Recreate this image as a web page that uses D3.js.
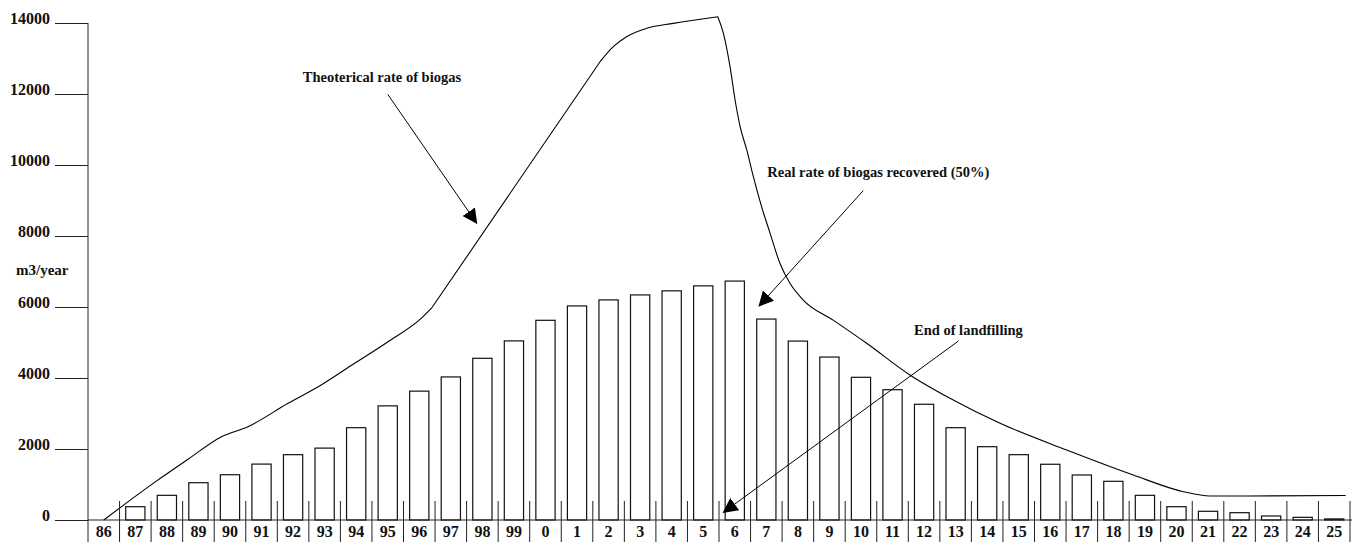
<!DOCTYPE html>
<html>
<head>
<meta charset="utf-8">
<script src="https://cdn.jsdelivr.net/npm/d3@7"></script>
<style>
  body { margin: 0; background: #fff; }
  text { font-family: "Liberation Serif", "Times New Roman", serif; font-weight: bold; fill: #111; }
</style>
</head>
<body>
<script>
// year labels along the bottom (1986 .. 2025)
const yearLabels = ["86", "87", "88", "89", "90", "91", "92", "93", "94", "95", "96", "97", "98", "99",
    "0", "1", "2", "3", "4", "5", "6", "7", "8", "9", "10", "11", "12", "13", "14", "15", "16",
    "17", "18", "19", "20", "21", "22", "23", "24", "25"];

// real rate of biogas recovered (bars), m3/year
const recovered = [0, 375, 695, 1050, 1275, 1575, 1840, 2025, 2600, 3215, 3630, 4030, 4555, 5045,
    5625, 6030, 6200, 6340, 6455, 6595, 6730, 5660, 5040, 4590, 4020, 3670, 3260, 2600, 2065, 1840,
    1570, 1268, 1090, 695, 375, 245, 206, 113, 75, 30];

// theoretical rate of biogas (line), year as decimal
const theoYear = [1986.0, 1987.61, 1988.67, 1989.73, 1990.57, 1991.84, 1992.89, 1993.95, 1995.01,
    1996.06, 1996.41, 2001.73, 2002.15, 2002.57, 2003.21, 2004.05, 2005.46, 2005.64, 2005.85,
    2006.01, 2006.17, 2006.38, 2006.59, 2006.85, 2007.12, 2007.43, 2007.75, 2008.17, 2009.12,
    2010.18, 2011.55, 2012.82, 2014.41, 2016.52, 2018.63, 2020.22, 2021.06, 2025.36];
const theoValue = [0, 1060, 1710, 2347, 2628, 3287, 3803, 4414, 5023,
    5682, 5992, 12910, 13333, 13614, 13850, 13990, 14178, 13710, 12769,
    11831, 11079, 10423, 9670, 8825, 8076, 7231, 6668, 6197, 5630,
    4977, 4085, 3428, 2723, 1972, 1268, 798, 676, 690];
// indices where the curve has a sharp corner
const theoCorners = [10, 11, 16];

const yTicks = [0, 2000, 4000, 6000, 8000, 10000, 12000, 14000];

// annotations: text anchor, arrow start and arrow tip (year, value)
const noteText = ["Theoterical rate of biogas", "Real rate of biogas recovered (50%)", "End of landfilling"];
const noteAt = [[1992.31, 12346], [2007.03, 9670], [2011.68, 5211]];
const noteFrom = [[1995.0, 11992], [2010.07, 9276], [2013.09, 5042]];
const noteTo = [[1997.82, 8358], [2006.77, 6028], [2005.64, 217]];

const W = 1352, H = 542;
const svg = d3.select("body").append("svg").attr("width", W).attr("height", H);

const x = d3.scaleBand().domain(yearLabels).range([88, 1350]).padding(0);
const xYear = d3.scaleLinear().domain([1985.5, 2025.5]).range([88, 1350]);
const y = d3.scaleLinear().domain([0, 14000]).range([520, 23]);
const bw = x.bandwidth();

// bars
svg.append("g").selectAll("rect")
    .data(recovered.map((v, i) => ({ label: yearLabels[i], v: v })).filter(d => d.v > 0))
    .join("rect")
    .attr("x", d => x(d.label) + bw * 0.195)
    .attr("width", bw * 0.61)
    .attr("y", d => y(d.v))
    .attr("height", d => y(0) - y(d.v))
    .attr("fill", "#fff")
    .attr("stroke", "#111")
    .attr("stroke-width", 1.2);

// theoretical line, smooth between corners
const pts = theoYear.map((t, i) => [t, theoValue[i]]);
const cuts = [0].concat(theoCorners, [pts.length - 1]);
const segs = d3.pairs(cuts).map(p => pts.slice(p[0], p[1] + 1));
const line = d3.line()
    .x(d => xYear(d[0]))
    .y(d => y(d[1]))
    .curve(d3.curveMonotoneX);
svg.append("path")
    .attr("d", segs.map(s => line(s)).join(""))
    .attr("fill", "none")
    .attr("stroke", "#000")
    .attr("stroke-width", 1.1);

// y axis
svg.append("g")
    .attr("transform", "translate(88,0)")
    .call(d3.axisLeft(y).tickValues(yTicks).tickSize(33).tickPadding(5).tickFormat(d3.format("d")))
    .call(g => g.select(".domain").remove())
    .call(g => g.selectAll("line").attr("stroke", "#222"))
    .call(g => g.selectAll("text")
        .attr("dy", 0)
        .attr("font-size", 16)
        .attr("font-family", "Liberation Serif, serif")
        .attr("font-weight", "bold")
        .attr("fill", "#111"));

svg.append("line")
    .attr("x1", 88).attr("x2", 88)
    .attr("y1", y(14000)).attr("y2", H)
    .attr("stroke", "#222");
svg.append("line")
    .attr("x1", 88).attr("x2", W)
    .attr("y1", y(0)).attr("y2", y(0))
    .attr("stroke", "#222");

svg.append("text")
    .attr("x", 16).attr("y", 275)
    .attr("font-size", 15)
    .text("m3/year");

// x axis: separators + labels
svg.append("g").selectAll("line")
    .data(yearLabels.slice(1).concat(["end"]))
    .join("line")
    .attr("x1", d => d === "end" ? x.range()[1] : x(d))
    .attr("x2", d => d === "end" ? x.range()[1] : x(d))
    .attr("y1", y(0) - 19)
    .attr("y2", H)
    .attr("stroke", "#222");

svg.append("g").selectAll("text")
    .data(yearLabels)
    .join("text")
    .attr("x", d => x(d) + bw / 2)
    .attr("y", 537)
    .attr("text-anchor", "middle")
    .attr("font-size", 16)
    .text(d => d);

// annotations
svg.append("defs").append("marker")
    .attr("id", "head")
    .attr("markerUnits", "userSpaceOnUse")
    .attr("markerWidth", 15).attr("markerHeight", 15)
    .attr("viewBox", "0 0 15 15")
    .attr("refX", 14).attr("refY", 7.5)
    .attr("orient", "auto")
    .append("path")
    .attr("d", "M0,0 L15,7.5 L0,15 Z")
    .attr("fill", "#000");

noteText.forEach((t, i) => {
    svg.append("text")
        .attr("x", xYear(noteAt[i][0]))
        .attr("y", y(noteAt[i][1]))
        .attr("font-size", 14.5)
        .text(t);
    svg.append("line")
        .attr("x1", xYear(noteFrom[i][0])).attr("y1", y(noteFrom[i][1]))
        .attr("x2", xYear(noteTo[i][0])).attr("y2", y(noteTo[i][1]))
        .attr("stroke", "#000")
        .attr("stroke-width", 1)
        .attr("marker-end", "url(#head)");
});
</script>
</body>
</html>
